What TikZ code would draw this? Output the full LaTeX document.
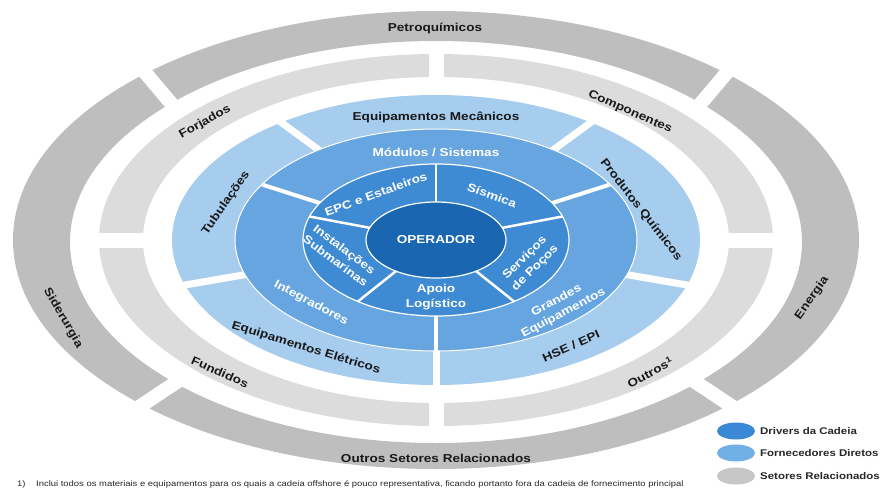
\documentclass[tikz,border=0pt]{standalone}
\usepackage{fontspec}
\setmainfont{Liberation Sans}[FakeStretch=1.18]

% ring colours, inside out
\definecolor{operadorblue}{HTML}{1A66B0}
\definecolor{driverblue}{HTML}{3F8BD3}
\definecolor{modulosblue}{HTML}{66A5DF}
\definecolor{fornecedorblue}{HTML}{A6CCEE}
\definecolor{setorlight}{HTML}{DCDCDC}
\definecolor{setordark}{HTML}{BEBEBE}
% legend swatches
\definecolor{legenddriver}{HTML}{3A88D6}
\definecolor{legendfornec}{HTML}{72AFE6}
\definecolor{legendsetor}{HTML}{C6C6C6}

\begin{document}
\begin{tikzpicture}[
    x=1pt, y=1pt,
    % Common Styles
    gap_line/.style={
        white,
        line width=#1
    },
    ring_edge/.style={
        white,
        line width=1.2pt
    },
    sector_text/.style={
        font=\fontsize{11.5}{14.5}\selectfont\bfseries,
        text=black!90,
        align=center,
        inner sep=0pt
    },
    core_text/.style={
        sector_text,
        text=white
    },
    legend_text/.style={
        font=\fontsize{9.7}{11}\selectfont\bfseries,
        text=black!85,
        anchor=west,
        inner sep=0pt
    },
    note_text/.style={
        font=\fontsize{8}{9}\selectfont,
        text=black!85,
        anchor=west,
        inner sep=0pt
    }
]
    \useasboundingbox (-436,-251) rectangle (447,240);

    % ================= SETORES RELACIONADOS =================
    % Outer band, four pieces
    \fill[setordark, even odd rule] (0,0) ellipse [x radius=423, y radius=229]
        (0,-2) ellipse [x radius=366, y radius=201];
    \foreach \a/\b in {43/47, 137/133, 225/226, 315/314} {
        \draw[gap_line=14pt] (\a:358 and 195) -- (\b:432 and 235);
    }

    % Second band, split at the axes
    \fill[setorlight, even odd rule] (0,0) ellipse [x radius=337, y radius=186]
        (0,0) ellipse [x radius=293, y radius=163];
    \foreach \a in {0, 90, 180, 270} {
        \draw[gap_line=15pt] (\a:285 and 157) -- (\a:345 and 192);
    }

    % ================= FORNECEDORES DIRETOS =================
    % Five equal pieces
    \fill[fornecedorblue] (0,0) ellipse [x radius=264, y radius=145];
    \foreach \a in {54, 126, 198, 270, 342} {
        \draw[gap_line=7pt] (\a:150 and 85) -- (\a:272 and 150);
    }

    % Three equal pieces
    \fill[modulosblue] (0,0) ellipse [x radius=201, y radius=111];
    \foreach \a in {30, 150, 270} {
        \draw[gap_line=4pt] (\a:100 and 55) -- (\a:201 and 111);
    }
    \draw[ring_edge, line width=1pt] (0,0) ellipse [x radius=201, y radius=111];

    % ================= DRIVERS DA CADEIA =================
    \fill[driverblue] (0,0) ellipse [x radius=133, y radius=76];
    \foreach \a in {18, 90, 162, 234, 306} {
        \draw[gap_line=2.5pt] (\a:50 and 28) -- (\a:133 and 76);
    }
    \draw[ring_edge] (0,0) ellipse [x radius=133, y radius=76];

    % Core
    \fill[operadorblue] (0,0) ellipse [x radius=70, y radius=38];
    \draw[ring_edge] (0,0) ellipse [x radius=70, y radius=38];

    % Labels, outer band
    \node[sector_text] (petro) at (-1,212) {Petroquímicos};
    \node[sector_text, rotate=-60] (siderurgia) at (-373,-78) {Siderurgia};
    \node[sector_text, rotate=55] (energia) at (376,-58) {Energia};
    \node[sector_text] (outros_setores) at (0,-218) {Outros Setores Relacionados};

    % Labels, second band
    \node[sector_text, rotate=30] (forjados) at (-231,118) {Forjados};
    \node[sector_text, rotate=-24] (componentes) at (194,128) {Componentes};
    \node[sector_text, rotate=28] (outros) at (214,-132) {Outros\textsuperscript{1}};
    \node[sector_text, rotate=-24] (fundidos) at (-216,-132) {Fundidos};

    % Labels, direct suppliers
    \node[sector_text] (mecanicos) at (0,123) {Equipamentos Mecânicos};
    \node[sector_text, rotate=-52] (quimicos) at (205,30) {Produtos Químicos};
    \node[sector_text, rotate=24] (hse) at (135,-106) {HSE / EPI};
    \node[sector_text, rotate=-17] (eletricos) at (-130,-108) {Equipamentos Elétricos};
    \node[sector_text, rotate=55] (tubulacoes) at (-210,37) {Tubulações};

    \node[core_text] (modulos) at (0,88) {Módulos / Sistemas};
    \node[core_text, rotate=-28] (integradores) at (-125,-63) {Integradores};
    \node[core_text, rotate=28] (grandes) at (124,-67) {Grandes\\Equipamentos};

    % Labels, drivers
    \node[core_text, rotate=20] (epc) at (-60,46) {EPC e Estaleiros};
    \node[core_text, rotate=-20] (sismica) at (56,45) {Sísmica};
    \node[core_text, rotate=45] (pocos) at (94,-23) {Serviços\\de Poços};
    \node[core_text] (apoio) at (0,-57) {Apoio\\Logístico};
    \node[core_text, rotate=-37] (submarinas) at (-96,-15) {Instalações\\Submarinas};
    \node[core_text] (operador) at (0,0) {OPERADOR};

    % Legend
    \foreach \y/\c/\t/\n in {-191/legenddriver/Drivers da Cadeia/driver,
                             -213/legendfornec/Fornecedores Diretos/fornec,
                             -236/legendsetor/Setores Relacionados/setor} {
        \fill[\c] (300,\y) ellipse [x radius=19, y radius=8.5];
        \node[legend_text] (leg_\n) at (324,\y) {\t};
    }

    % Footnote
    \node[note_text] (note_num) at (-419,-244) {1)};
    \node[note_text] (note) at (-400,-244) {Inclui todos os materiais e equipamentos para os quais a cadeia offshore é pouco representativa, ficando portanto fora da cadeia de fornecimento principal};

\end{tikzpicture}
\end{document}
